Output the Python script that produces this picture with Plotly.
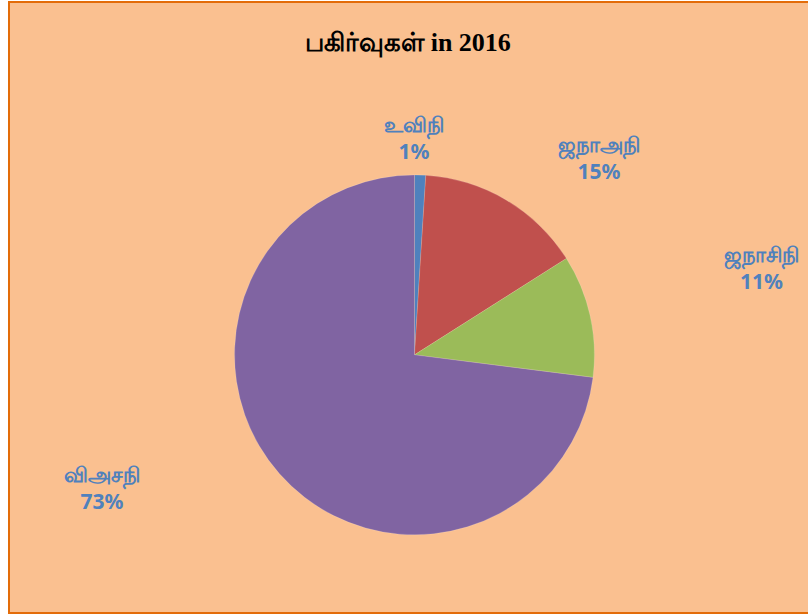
import plotly.graph_objects as go

labels = ["உவிநி", "ஜநாஅநி", "ஜநாசிநி", "விஅசநி"]
values = [1, 15, 11, 73]
colors = ["#4F81BD", "#C0504D", "#9BBB59", "#8064A2"]
title_text = "பகிர்வுகள் in 2016"

# label anchor positions (paper coords)
label_pos = [(0.5075, 0.779), (0.739, 0.745), (0.942, 0.565), (0.1165, 0.2046)]

fig = go.Figure()
fig.add_trace(go.Pie(
    labels=labels,
    values=values,
    sort=False,
    direction="clockwise",
    rotation=0,
    marker=dict(colors=colors, line=dict(color="rgba(255,255,255,0.3)", width=0.5)),
    textinfo="none",
    hoverinfo="label+percent",
    showlegend=False,
    domain=dict(x=[0.282, 0.733], y=[0.128, 0.717]),
))

total = sum(values)
annotations = []
for lab, val, (ax, ay) in zip(labels, values, label_pos):
    annotations.append(dict(
        x=ax, y=ay, xref="paper", yref="paper",
        xanchor="center", yanchor="middle",
        text=f"<b>{lab}<br>{round(val / total * 100)}%</b>",
        showarrow=False,
        font=dict(family="Noto Sans, Liberation Sans, sans-serif", size=21, color="#4F81BD"),
        align="center",
    ))

fig.update_layout(
    width=808, height=616,
    margin=dict(l=9, r=0, t=2, b=3),
    paper_bgcolor="white",
    title=dict(
        text=f"<b>{title_text}</b>",
        x=0.505, xanchor="center", y=0.932, yanchor="middle",
        font=dict(family="Liberation Serif, DejaVu Serif, serif", size=26, color="black"),
    ),
    annotations=annotations,
    shapes=[dict(
        type="rect", xref="paper", yref="paper", x0=0, y0=0, x1=1.01, y1=1,
        fillcolor="#FAC090", line=dict(color="#E36C09", width=2), layer="below",
    )],
)

fig.write_html("out.html", config={"displayModeBar": False},
               post_script="document.body.style.margin='0';")
